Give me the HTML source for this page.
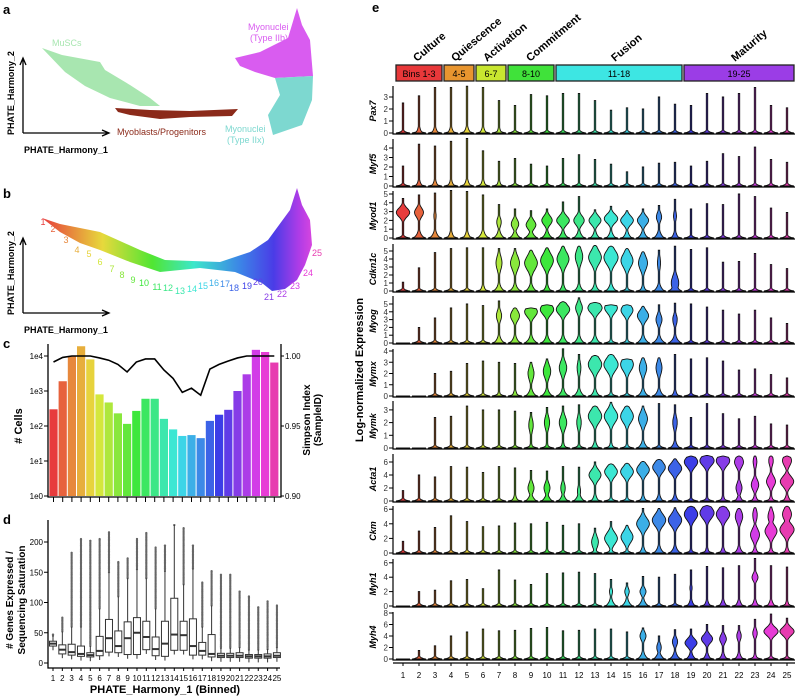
<!DOCTYPE html>
<html><head><meta charset="utf-8"><style>
body{margin:0;background:#fff}
svg{display:block;font-family:"Liberation Sans",Arial,sans-serif}
</style></head><body>
<svg id="fig" width="798" height="698" viewBox="0 0 798 698">
<defs>
<linearGradient id="rb" x1="42" x2="318" y1="0" y2="0" gradientUnits="userSpaceOnUse">
<stop offset="0" stop-color="hsl(0,78%,57%)"/><stop offset="0.12" stop-color="hsl(30,78%,57%)"/>
<stop offset="0.22" stop-color="hsl(55,78%,57%)"/><stop offset="0.4" stop-color="hsl(110,78%,55%)"/>
<stop offset="0.55" stop-color="hsl(170,78%,57%)"/><stop offset="0.72" stop-color="hsl(215,78%,57%)"/>
<stop offset="0.84" stop-color="hsl(245,78%,57%)"/><stop offset="0.93" stop-color="hsl(280,78%,57%)"/>
<stop offset="1" stop-color="hsl(305,78%,60%)"/>
</linearGradient>
</defs>
<!-- Panel a -->
<g>
<text x="3" y="14" font-size="13" font-weight="bold">a</text>
<polygon points="42,48 62,55 100,62 105,70 130,85 150,98 160,106 140,106 110,98 85,86 65,72" fill="#a8e6b0"/>
<polygon points="115,108 150,110 190,111 238,109 232,116 190,117 160,119 130,115 118,112" fill="#8b2a1a"/>
<polygon points="235,58 260,52 288,38 297,8 302,25 310,40 313,76 275,78 255,72 240,66" fill="#d95cf0"/>
<polygon points="275,78 313,76 312,100 302,125 273,135 268,115 280,95" fill="#7dd8d0"/>
<text x="52" y="46" font-size="9" fill="#a8e6b0">MuSCs</text>
<text x="248" y="30" font-size="9" fill="#d95cf0">Myonuclei</text>
<text x="250" y="41" font-size="9" fill="#d95cf0">(Type IIb)</text>
<text x="117" y="135" font-size="9" fill="#8b2a1a">Myoblasts/Progenitors</text>
<text x="225" y="132" font-size="9" fill="#7dd8d0">Myonuclei</text>
<text x="227" y="143" font-size="9" fill="#7dd8d0">(Type IIx)</text>
<path d="M23,133 V60 M20,65 L23,58 L26,65 M23,133 H107 M102,130 L109,133 L102,136" stroke="#000" stroke-width="1.3" fill="none"/>
<text transform="translate(14,135) rotate(-90)" font-size="9" font-weight="bold">PHATE_Harmony_2</text>
<text x="24" y="153" font-size="9" font-weight="bold">PHATE_Harmony_1</text>
</g>
<!-- Panel b -->
<g>
<text x="3" y="198" font-size="13" font-weight="bold">b</text>
<polygon points="42,218 60,224 100,232 140,250 165,260 220,262 250,252 268,240 290,210 297,188 302,205 310,220 312,245 305,265 297,280 285,289 272,291 262,283 235,272 200,268 160,272 130,262 100,250 80,243 60,232" fill="url(#rb)"/>
<path d="M23,313 V240 M20,245 L23,238 L26,245 M23,313 H107 M102,310 L109,313 L102,316" stroke="#000" stroke-width="1.3" fill="none"/>
<text transform="translate(14,315) rotate(-90)" font-size="9" font-weight="bold">PHATE_Harmony_2</text>
<text x="24" y="333" font-size="9" font-weight="bold">PHATE_Harmony_1</text>
<g id="binLabels"></g>
</g>
<!-- Panel c -->
<g id="pc">
<text x="3" y="348" font-size="13" font-weight="bold">c</text>
<text transform="translate(22,426) rotate(-90)" font-size="11" font-weight="bold" text-anchor="middle"># Cells</text>
<text transform="translate(310,420) rotate(-90)" font-size="10" font-weight="bold" text-anchor="middle">Simpson Index</text>
<text transform="translate(321,420) rotate(-90)" font-size="10" font-weight="bold" text-anchor="middle">(SampleID)</text>
</g>
<!-- Panel d -->
<g id="pd">
<text x="3" y="524" font-size="13" font-weight="bold">d</text>
<text transform="translate(13,600) rotate(-90)" font-size="10" font-weight="bold" text-anchor="middle"># Genes Expressed /</text>
<text transform="translate(25,600) rotate(-90)" font-size="10" font-weight="bold" text-anchor="middle">Sequencing Saturation</text>
<text x="165" y="693" font-size="11" font-weight="bold" text-anchor="middle">PHATE_Harmony_1 (Binned)</text>
</g>
<!-- Panel e -->
<g id="pe">
<text x="372" y="12" font-size="13" font-weight="bold">e</text>
<text transform="translate(363,370) rotate(-90)" font-size="11" font-weight="bold" text-anchor="middle">Log-normalized Expression</text>
</g>
</svg>
<script>
// ---------- data ----------
const bins = [1,2,3,4,5,6,7,8,9,10,11,12,13,14,15,16,17,18,19,20,21,22,23,24,25];
const cellCounts = [300,1900,10000,19000,8000,800,470,230,115,270,600,600,160,80,52,55,45,140,210,290,1000,3000,15000,13000,6500];
const simpson = [0.9957,0.999,1.0,1.0,1.0,0.9986,0.997,0.994,0.9886,0.9957,0.9979,0.9979,0.99,0.984,0.974,0.977,0.972,0.9907,0.994,0.9964,0.9986,1.0,1.0,1.0,1.0];
const cTickLabels = ["1e0","1e1","1e2","1e3","1e4"];
const c2TickLabels = ["0.90","0.95","1.00"];
const boxMedian = [32,22,18,15,13,20,41,28,41,50,43,23,32,47,46,28,20,15,12,12,12,11,11,11,12];
const boxQ1 = [28,15,13,11,10,12,18,17,14,14,22,12,11,21,21,13,13,10,9,9,9,8,8,8,9];
const boxQ3 = [36,30,31,28,17,44,72,53,68,75,69,43,69,107,69,73,34,47,16,16,17,14,14,15,17];
const boxWhiskerMax = [45,52,60,60,28,90,150,110,140,155,140,90,152,228,130,156,60,95,25,25,26,22,22,23,26];
const boxOutlierMax = [47,75,182,205,202,205,216,167,173,205,215,191,194,228,223,194,133,152,146,146,118,110,92,102,95];
const dTicks = [0,50,100,150,200];
const phaseNames = ["Culture","Quiescence","Activation","Commitment","Fusion","Maturity"];
const phaseRanges = ["Bins 1-3","4-5","6-7","8-10","11-18","19-25"];
const phaseStart = [1,4,6,8,11,19];
const phaseEnd = [3,5,7,10,18,25];
const genes = ["Pax7","Myf5","Myod1","Cdkn1c","Myog","Mymx","Mymk","Acta1","Ckm","Myh1","Myh4"];
const geneTicks = [[0,1,2,3],[0,1,2,3,4],[0,1,2,3,4,5],[0,1,2,3,4,5],[0,1,2,3,4,5],[0,1,2,3,4],[0,1,2,3],[0,2,4,6],[0,2,4,6],[0,2,4,6],[0,2,4,6,8]];
const pax7Top=[2.5,3.1,3.8,3.8,3.9,3.8,2.7,2.3,3.2,3.1,3.3,3.3,2.7,1.9,2.1,2.0,3.0,2.4,2.3,3.3,3.0,3.3,3.8,2.3,2.1];
const myf5Top=[2.1,4.4,4.2,4.7,5.0,3.7,2.6,2.9,2.3,2.1,2.9,3.3,2.8,2.3,1.5,2.0,2.4,2.5,2.1,2.6,3.4,3.1,4.1,2.8,2.5];
const myod1Top=[4.5,4.9,5.1,5.4,5.3,4.9,3.8,3.3,3.1,3.3,4.1,4.7,3.2,3.6,3.1,3.3,3.7,4.4,3.3,3.9,3.8,5.0,4.7,3.4,2.9];
const cdkn1cTop=[1.1,2.9,4.8,5.3,5.4,5.4,5.3,5.3,5.1,5.4,5.6,5.6,5.7,5.6,5.3,4.9,5.1,5.6,5.2,5.4,3.6,3.7,4.7,3.3,2.8];
const myogTop=[0,2,3.2,4.5,5,4.8,5.4,4.5,4.5,4.9,5.3,5.8,5.2,4.9,4.9,4.7,4.9,5.1,5.0,4.6,4.2,3.7,4.2,3.2,2.5];
const mymxTop=[0,0,2,2.2,2.9,3.1,3,2.9,3,3.3,4.2,3.7,3.6,3.7,3.3,3.4,3.4,3.7,3.3,3.4,3.1,2.3,2.4,1.9,1.6];
const mymkTop=[0,0,2.4,2.5,3.3,3,3,2.9,2.8,3.2,3.3,3.4,3.3,3.6,3.3,3.3,3.5,3.4,2.4,3.5,2.7,2.3,2.5,1.9,1.8];
const acta1Top=[1.6,4,3.7,5.3,5.2,4.4,5.3,5.1,4.7,4.6,5.3,5.2,6,5.7,5.8,6.1,6.4,6.5,6.9,7,6.9,6.9,6.9,6.9,6.9];
const ckmTop=[1.6,3,3.5,5.1,4.3,3.6,3.7,4.1,4,4.2,3.8,4,3.4,4.3,3.8,6.1,6.1,6.2,6.4,6.5,6.4,6.1,6.2,6.3,6.4];
const myh1Top=[0,2,2.2,3.5,3.7,2.4,5,3.6,3,4.5,4.6,4.7,4.5,3.7,3.2,4.1,4,4.4,5,5.5,5.3,5.6,6.6,5.6,5.4];
const myh4Top=[0,1.5,2.3,4,4.7,5.2,4.9,5,5.3,5.5,4.9,5,5.2,5.2,4.7,5.4,4,5.1,5.2,6,5.8,5.8,6.9,7.8,7.1];
const pax7Mode=[0,0,0,0,0,0,0,0,0,0,0,0,0,0,0,0,0,0,0,0,0,0,0,0,0];
const myf5Mode=[0,0,0,0,0,0,0,0,0,0,0,0,0,0,0,0,0,0,0,0,0,0,0,0,0];
const myod1Mode=[2.9,2.9,2.5,0,0,2,1.8,1.6,1.5,2,2,2,2,2.2,2,2,2.4,2.5,0,0,0,0,0,0,0];
const cdkn1cMode=[0,0,0,0,0,0,3.5,3.5,3.5,3.8,4,4.3,4.2,4.2,3.8,3.5,3.5,1,0,0,0,0,0,0,0];
const myogMode=[0,0,0,0,0,0,3.5,3.5,4,4.3,4.3,4.5,4.5,4.5,4.2,3.5,3,3,0,0,0,0,0,0,0];
const mymxMode=[0,0,0,0,0,0,0,0,2,2.2,2.5,2.5,2.8,2.8,2.8,2.5,2.5,2,0,0,0,0,0,0,0];
const mymkMode=[0,0,0,0,0,0,0,0,1.8,2,2,2,2.5,2.5,2.5,2.3,0,2,0,0,0,0,0,0,0];
const acta1Mode=[0,0,0,0,0,0,0,0,2,2,2,1.5,4,4.5,4.5,4.8,5.2,5,6,6.2,6.2,6,2.5,3,3];
const ckmMode=[0,0,0,0,0,0,0,0,0,0,0,0,1.5,2,2.2,4,4.5,4.5,5.3,5.5,5.3,5,2.5,3,3.2];
const myh1Mode=[0,0,0,0,0,0,0,0,0,0,0,0,0,2,2,2,0,0,2.5,0,0,3,4,3,0];
const myh4Mode=[0,0,0,0,0,0,0,0,0,0,0,0,0,0,0,4,2,3,2.8,3.5,3.5,4,4.5,4.8,4.8];
const pax7Width=[0,0,0,0,0,0,0,0,0,0,0,0,0,0,0,0,0,0,0,0,0,0,0,0,0];
const myf5Width=[0,0,0,0,0,0,0,0,0,0,0,0,0,0,0,0,0,0,0,0,0,0,0,0,0];
const myod1Width=[0.9,0.6,0.15,0,0,0.1,0.3,0.5,0.65,0.7,0.85,0.7,0.8,0.9,0.85,0.75,0.35,0.2,0,0,0,0,0,0,0];
const cdkn1cWidth=[0,0,0,0,0,0,0.4,0.6,0.85,0.85,0.8,0.5,0.85,0.95,0.8,0.6,0.2,0.5,0,0,0,0,0,0,0];
const myogWidth=[0,0,0,0,0,0,0.35,0.6,0.85,0.9,0.9,0.45,0.95,0.85,0.8,0.75,0.4,0.3,0,0,0,0,0,0,0];
const mymxWidth=[0,0,0,0,0,0,0,0,0.4,0.5,0.5,0.25,0.9,0.95,0.85,0.5,0.4,0.1,0,0,0,0,0,0,0];
const mymkWidth=[0,0,0,0,0,0,0,0,0.3,0.35,0.5,0.3,0.9,0.9,0.85,0.6,0,0.3,0,0,0,0,0,0,0];
const acta1Width=[0,0,0,0,0,0,0,0,0.4,0.4,0.3,0.2,0.8,0.85,0.85,0.85,0.85,0.9,0.9,0.95,0.9,0.6,0.5,0.6,0.9];
const ckmWidth=[0,0,0,0,0,0,0,0,0,0,0,0,0.45,0.85,0.8,0.85,0.9,0.9,0.9,0.95,0.9,0.5,0.6,0.8,0.95];
const myh1Width=[0,0,0,0,0,0,0,0,0,0,0,0,0,0.2,0.3,0.4,0,0,0.15,0,0,0.1,0.4,0.1,0];
const myh4Width=[0,0,0,0,0,0,0,0,0,0,0,0,0,0,0,0.4,0.3,0.35,0.8,0.75,0.45,0.3,0.3,0.95,0.95];
const pax7Base=[0,0.5,0.5,0.5,0.6,0.5,0.4,0,0,0,0,0,0,0,0,0,0,0,0,0,0,0,0,0,0];
const myf5Base=[0,0.5,0.5,0.5,0.6,0.5,0.4,0,0,0,0,0,0,0,0,0,0,0,0,0,0,0,0,0,0];
const myod1Base=[0,0.8,0.8,0.6,0.6,0.8,0.8,0.8,0.9,0.8,0.8,0.8,0.7,0.7,0.7,0.8,0.8,0.6,0,0,0,0,0,0,0];
const cdkn1cBase=[0,0,0,0,0,0.5,0.8,0.8,0.8,0.6,0.6,0.7,0.7,0.8,0.3,0.5,0.8,0.9,0,0,0,0,0,0,0];
const myogBase=[0,0,0,0,0,0.15,0.8,0.8,0.9,0.8,0.8,0.8,0.8,0.3,0.3,0.9,0.9,0.9,0,0,0,0,0,0,0];
const mymxBase=[0,0,0,0,0,0,0.3,0.5,0.8,0.8,0.8,0.8,0.7,0.3,0.2,0.8,0.8,0.5,0,0,0,0,0,0,0];
const mymkBase=[0,0,0,0,0,0,0,0,0.3,0.3,0.4,0.3,0.6,0.4,0.3,0.8,0,0.7,0,0,0,0,0,0,0];
const acta1Base=[0,0,0,0,0,0,0.2,0.5,0.8,0.8,0.7,0.8,0.6,0.3,0.3,0.5,0.6,0.6,0.2,0.3,0.4,0.6,0.5,0.4,0.6];
const ckmBase=[0,0,0,0,0,0,0,0,0.2,0.3,0,0,0.4,0.4,0.3,0.6,0.8,0.8,0.3,0.4,0.5,0.7,0.5,0.4,0.5];
const myh1Base=[0,0,0,0,0,0,0,0,0,0,0,0,0,0.8,0.8,0.8,0,0,0.6,0.5,0.6,0.6,0.6,0.6,0.4];
const myh4Base=[0,0,0,0,0,0,0,0,0,0,0,0,0,0,0,0.8,0.8,0.8,0.7,0.6,0.6,0.6,0.4,0.1,0.2];
const ckmMode2=[0,0,0,0,0,0,0,0,0,0,0,0,0,0,0,0,0,0,0,0,0,0,5.2,5,5.3];
const ckmWidth2=[0,0,0,0,0,0,0,0,0,0,0,0,0,0,0,0,0,0,0,0,0,0,0.3,0.4,0.6];
const acta1Mode2=[0,0,0,0,0,0,0,0,0,0,0,0,0,0,0,0,0,0,0,0,0,2,6,6.2,6.2];
const acta1Width2=[0,0,0,0,0,0,0,0,0,0,0,0,0,0,0,0,0,0,0,0,0,0.4,0.25,0.3,0.6];

const geneTop=[pax7Top,myf5Top,myod1Top,cdkn1cTop,myogTop,mymxTop,mymkTop,acta1Top,ckmTop,myh1Top,myh4Top];
const geneMode=[pax7Mode,myf5Mode,myod1Mode,cdkn1cMode,myogMode,mymxMode,mymkMode,acta1Mode,ckmMode,myh1Mode,myh4Mode];
const geneWidth=[pax7Width,myf5Width,myod1Width,cdkn1cWidth,myogWidth,mymxWidth,mymkWidth,acta1Width,ckmWidth,myh1Width,myh4Width];
const geneBase=[pax7Base,myf5Base,myod1Base,cdkn1cBase,myogBase,mymxBase,mymkBase,acta1Base,ckmBase,myh1Base,myh4Base];

// ---------- layout ----------
const NS="http://www.w3.org/2000/svg";
function mk(tag,parent,attrs){const e=document.createElementNS(NS,tag);for(const k in attrs)e.setAttribute(k,attrs[k]);parent.appendChild(e);return e;}
function col(i){return "hsl("+(i*13.3)+",78%,57%)";}
const binPos=[[43,221],[53,228],[66,239],[77,249],[89,253],[100,261],[112,268],[122,274],[133,279],[144,282],[157,286],[168,287],[180,290],[192,288],[203,285],[214,282],[225,283],[234,287],[247,285],[258,281],[269,296],[282,293],[295,285],[308,272],[317,252]];
const bl=document.getElementById('binLabels');
bins.forEach((b,i)=>{const t=mk('text',bl,{x:binPos[i][0],y:binPos[i][1]+4,'font-size':9,fill:col(i),'text-anchor':'middle'});


t.textContent=b;});

// Panel c
const pc=document.getElementById('pc');
const cx=i=>53.5+i*9.2, cy=v=>496-35*Math.log10(v), sy=v=>356+(1-v)/0.05*70;
bins.forEach((b,i)=>{const r=mk('rect',pc,{x:cx(i)-4.1,y:cy(cellCounts[i]),width:8.2,height:496-cy(cellCounts[i]),fill:col(i)});


const tk=mk('line',pc,{x1:cx(i),x2:cx(i),y1:497,y2:502,stroke:'#000','stroke-width':1});

});
const ax=mk('path',pc,{d:'M48,344 V497 H281 V344',stroke:'#000','stroke-width':1.3,fill:'none'});


cTickLabels.forEach((l,k)=>{const y=cy(Math.pow(10,k));
const t=mk('text',pc,{x:43,y:y+3,'font-size':8,'text-anchor':'end'});t.textContent=l;


mk('line',pc,{x1:44,x2:48,y1:y,y2:y,stroke:'#000'});});
c2TickLabels.forEach(l=>{const y=sy(parseFloat(l));
const t=mk('text',pc,{x:285,y:y+3,'font-size':8});t.textContent=l;


mk('line',pc,{x1:281,x2:284,y1:y,y2:y,stroke:'#000'});});
const ln=mk('polyline',pc,{points:simpson.map((v,i)=>cx(i)+','+sy(v)).join(' '),fill:'none',stroke:'#000','stroke-width':1.6});



// Panel d
const pd=document.getElementById('pd');
const dx=i=>53+i*9.33, dy=v=>663-0.605*v;
bins.forEach((b,i)=>{const g=mk('g',pd,{});


for(let v=boxWhiskerMax[i];v<=boxOutlierMax[i];v+=2){mk('circle',g,{cx:dx(i),cy:dy(v),r:1.1,fill:'#666'});}
mk('circle',g,{cx:dx(i),cy:dy(boxOutlierMax[i]),r:1.1,fill:'#666'});
mk('line',g,{x1:dx(i),x2:dx(i),y1:dy(boxWhiskerMax[i]),y2:dy(Math.max(0,boxQ1[i]-7)),stroke:'#333','stroke-width':1});
mk('rect',g,{x:dx(i)-3.5,y:dy(boxQ3[i]),width:7,height:dy(boxQ1[i])-dy(boxQ3[i]),fill:'#fff',stroke:'#333','stroke-width':1});
mk('line',g,{x1:dx(i)-3.5,x2:dx(i)+3.5,y1:dy(boxMedian[i]),y2:dy(boxMedian[i]),stroke:'#333','stroke-width':2});
const t=mk('text',pd,{x:dx(i),y:681,'font-size':8,'text-anchor':'middle'});t.textContent=b;


mk('line',pd,{x1:dx(i),x2:dx(i),y1:668,y2:671,stroke:'#000'});});
const dax=mk('path',pd,{d:'M48,520 V668 H280',stroke:'#000','stroke-width':1.3,fill:'none'});


dTicks.forEach(v=>{const t=mk('text',pd,{x:43,y:dy(v)+3,'font-size':8,'text-anchor':'end'});t.textContent=v;


mk('line',pd,{x1:44,x2:48,y1:dy(v),y2:dy(v),stroke:'#000'});});

// Panel e
const pe=document.getElementById('pe');
const ex=b=>403+(b-1)*16;
const phaseCols=["#e8383a","#e8952f","#c8e630","#40e23a","#3de6e3","#9b3de6"];
const phaseLabelX=[417,455,487,530,615,735];
phaseNames.forEach((n,k)=>{const x0=ex(phaseStart[k])-7, x1=ex(phaseEnd[k])+7;
const r=mk('rect',pe,{x:x0,y:65,width:x1-x0,height:16,fill:phaseCols[k],stroke:'#222','stroke-width':1.3});


const t=mk('text',pe,{x:(x0+x1)/2,y:77,'font-size':9,'text-anchor':'middle'});t.textContent=phaseRanges[k];


const h=mk('text',pe,{transform:'translate('+phaseLabelX[k]+',62) rotate(-40)','font-size':11,'font-weight':'bold'});h.textContent=n;

});
const geneZero=[133,186,238,291,343,396,448,501,553,606,659];
const geneUnit=[12,9.5,8.8,8,7.8,11.25,12.7,6.5,7.3,7.2,5.75];
const geneSd=[0.5,0.5,0.7,1.2,0.9,0.8,0.7,1.1,1.1,0.7,1.0];
const mode2={7:[acta1Mode2,acta1Width2],8:[ckmMode2,ckmWidth2]};
genes.forEach((gname,gi)=>{const z=geneZero[gi],u=geneUnit[gi],top=z-47;
const g=mk('g',pe,{});


mk('path',g,{d:'M393,'+top+' V'+(z+1)+' H795',stroke:'#000','stroke-width':1.2,fill:'none'});
geneTicks[gi].forEach(v=>{const y=z-v*u;mk('line',g,{x1:389,x2:393,y1:y,y2:y,stroke:'#000'});
const t=mk('text',g,{x:388,y:y+3,'font-size':8,'text-anchor':'end',fill:'#333'});t.textContent=v;

});
const gl=mk('text',g,{transform:'translate(376,'+(z-22)+') rotate(-90)','font-size':9,'font-weight':'bold','font-style':'italic','text-anchor':'middle'});gl.textContent=gname;


bins.forEach((b,i)=>{const T=geneTop[gi][i],M=geneMode[gi][i],W=geneWidth[gi][i],B=geneBase[gi][i],sd=geneSd[gi];
const m2=mode2[gi];const N=40,hp=T*u;const R=[],L=[];
for(let s=0;s<=N;s++){const py=hp*s/N, v=py/u;
let h=Math.max(0.7,7*Math.exp(-py/1.2),B*7*Math.exp(-py/4));
if(W>0)h=Math.max(h,W*7.5*Math.exp(-Math.pow((v-M)/sd,2)));
if(m2&&m2[1][i]>0)h=Math.max(h,m2[1][i]*7.5*Math.exp(-Math.pow((v-m2[0][i])/sd,2)));
if(s==N&&hp>0)h=Math.min(h,0.7);
R.push((ex(b)+h).toFixed(1)+','+(z-py).toFixed(1));L.unshift((ex(b)-h).toFixed(1)+','+(z-py).toFixed(1));}
const p=mk('polygon',g,{points:R.concat(L).join(' '),fill:col(i),stroke:'#111','stroke-width':0.9});

});});
bins.forEach(b=>{mk('line',pe,{x1:ex(b),x2:ex(b),y1:663,y2:666,stroke:'#000'});
const t=mk('text',pe,{x:ex(b),y:678,'font-size':8,'text-anchor':'middle'});t.textContent=b;

});
const eax=mk('line',pe,{x1:393,x2:795,y1:663,y2:663,stroke:'#000','stroke-width':1.3});


</script>
</body></html>
